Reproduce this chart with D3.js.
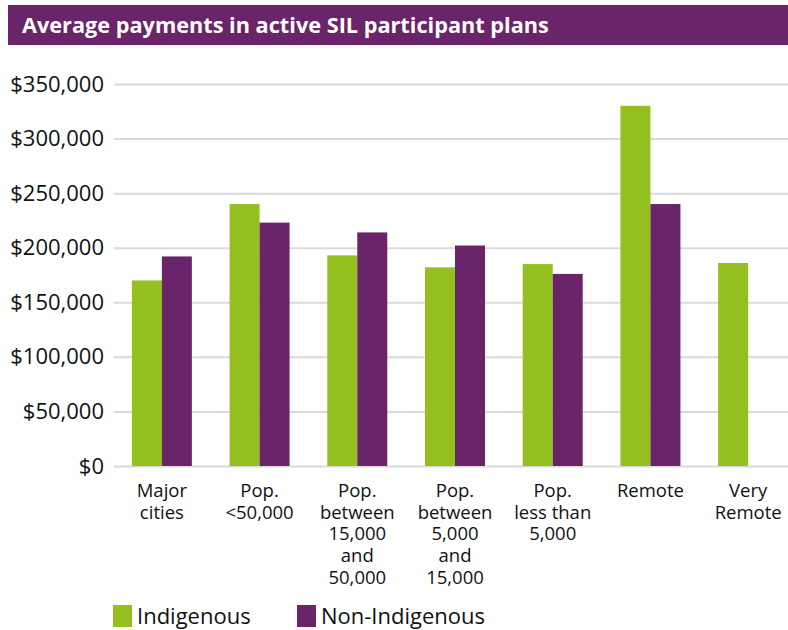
<!DOCTYPE html>
<html>
<head>
<meta charset="utf-8">
<script src="https://cdn.jsdelivr.net/npm/d3@7"></script>
<style>
  body { margin: 0; background: #fff; }
  text { font-family: "Open Sans", sans-serif; }
</style>
</head>
<body>
<svg id="chart" width="788" height="630"></svg>
<script>
// Data
const categories = [
  ["Major", "cities"],
  ["Pop.", "<50,000"],
  ["Pop.", "between", "15,000", "and", "50,000"],
  ["Pop.", "between", "5,000", "and", "15,000"],
  ["Pop.", "less than", "5,000"],
  ["Remote"],
  ["Very", "Remote"]
];
const seriesNames = ["Indigenous", "Non-Indigenous"];
const indigenous = [170000, 240000, 193000, 182000, 185000, 330000, 186000];
const nonIndigenous = [192000, 223000, 214000, 202000, 176000, 240000, null];
const yTicks = [0, 50000, 100000, 150000, 200000, 250000, 300000, 350000];
const colors = ["#93c01f", "#69246a"];

const width = 788, height = 630;
const svg = d3.select("#chart");

// Title bar
svg.append("rect")
  .attr("x", 8).attr("y", 5)
  .attr("width", width - 8).attr("height", 40)
  .attr("fill", "#69246a");
svg.append("text")
  .attr("x", 22).attr("y", 33)
  .attr("fill", "#fff")
  .style("font-size", "21.7px")
  .style("font-weight", "bold")
  .text("Average payments in active SIL participant plans");

const x0 = d3.scaleBand()
  .domain(d3.range(categories.length))
  .range([113, 797])
  .paddingInner(0.386)
  .paddingOuter(0.193);

const x1 = d3.scaleBand()
  .domain(seriesNames)
  .range([0, x0.bandwidth()]);

const y = d3.scaleLinear()
  .domain([0, 350000])
  .range([466, 84]);

// Gridlines + y labels
const yAxis = d3.axisLeft(y)
  .tickValues(yTicks)
  .tickSize(-(width - 114))
  .tickPadding(10)
  .tickFormat(d => "$" + d3.format(",")(d));

svg.append("g")
  .attr("transform", "translate(114,0)")
  .call(yAxis)
  .call(g => g.select(".domain").remove())
  .call(g => g.selectAll(".tick line").attr("stroke", "#dadada").attr("stroke-width", 2))
  .call(g => g.selectAll(".tick text")
    .attr("fill", "#111")
    .style("font-size", "22px")
    .style("font-family", "'Open Sans', sans-serif"));

// Bars
const rows = categories.map((c, i) => ({
  i,
  values: [
    { key: seriesNames[0], value: indigenous[i], color: colors[0] },
    { key: seriesNames[1], value: nonIndigenous[i], color: colors[1] }
  ].filter(d => d.value != null)
}));

const groups = svg.selectAll(".group")
  .data(rows)
  .enter()
  .append("g")
  .attr("class", "group")
  .attr("transform", d => `translate(${x0(d.i)},0)`);

groups.selectAll("rect")
  .data(d => d.values)
  .enter()
  .append("rect")
  .attr("x", d => x1(d.key))
  .attr("y", d => y(d.value))
  .attr("width", x1.bandwidth())
  .attr("height", d => y(0) - y(d.value))
  .attr("fill", d => d.color);

// Category labels
const labels = svg.selectAll(".cat")
  .data(categories)
  .enter()
  .append("text")
  .attr("class", "cat")
  .attr("text-anchor", "middle")
  .attr("fill", "#111")
  .style("font-size", "18.5px")
  .attr("transform", (d, i) => `translate(${x0(i) + x0.bandwidth() / 2},497)`);

labels.selectAll("tspan")
  .data(d => d)
  .enter()
  .append("tspan")
  .attr("x", 0)
  .attr("y", (d, i) => i * 21.7)
  .text(d => d);

// Legend
const legendX = [113, 297];
const legend = svg.selectAll(".legend")
  .data(seriesNames)
  .enter()
  .append("g")
  .attr("class", "legend")
  .attr("transform", (d, i) => `translate(${legendX[i]},605)`);

legend.append("rect")
  .attr("width", 19).attr("height", 22)
  .attr("fill", (d, i) => colors[i]);

legend.append("text")
  .attr("x", 24).attr("y", 19)
  .attr("fill", "#111")
  .style("font-size", "22px")
  .text(d => d);
</script>
</body>
</html>
